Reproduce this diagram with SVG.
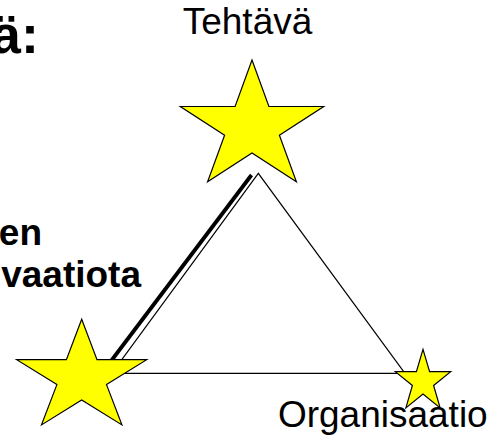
<svg xmlns="http://www.w3.org/2000/svg" width="500" height="438" viewBox="0 0 500 438">
<style>
.star{fill:#FFFF00;stroke:#000;stroke-width:1.2;stroke-linejoin:miter}
.thin{fill:none;stroke:#000;stroke-width:1.2}
.thick{fill:none;stroke:#000;stroke-width:3.8}
.lbl{font-family:"Liberation Sans",Arial,sans-serif;font-size:37px;fill:#000}
.bold{font-family:"Liberation Sans",Arial,sans-serif;font-weight:bold;fill:#000}
</style>
<rect width="500" height="438" fill="#fff"/>
<g id="connectors">
<polygon class="thin" points="258.3,173.3 111.7,373.3 405,373.3"/>
<line class="thick" x1="251.5" y1="175" x2="108.8" y2="364"/>
</g>
<g id="node-tehtava">
<polygon class="star" points="252,60 268.9,106.5 323.7,106.5 279.4,135.2 296.4,181.7 252,153 207.6,181.7 224.6,135.2 180.3,106.5 235.1,106.5"/>
<text class="lbl" x="247.5" y="34" text-anchor="middle">Tehtävä</text>
</g>
<g id="node-left">
<polygon class="star" points="81.7,319.3 97,359.7 146.7,359.7 106.5,384.6 121.9,424.9 81.7,400 41.5,424.9 56.9,384.6 16.7,359.7 66.4,359.7"/>
</g>
<g id="node-organisaatio">
<polygon class="star" points="423,349.3 429.6,371.7 450.7,371.7 433.6,385.5 440.1,407.9 423,394.1 405.9,407.9 412.4,385.5 395.3,371.7 416.4,371.7"/>
<text class="lbl" x="382.8" y="427" text-anchor="middle">Organisaatio</text>
</g>
<g id="texts">
<text class="bold" x="39" y="53.3" font-size="54" text-anchor="end">ä:</text>
<text class="bold" x="42" y="245" font-size="37" text-anchor="end">en</text>
<text class="bold" x="141" y="287" font-size="37" text-anchor="end">vaatiota</text>
</g>
</svg>
